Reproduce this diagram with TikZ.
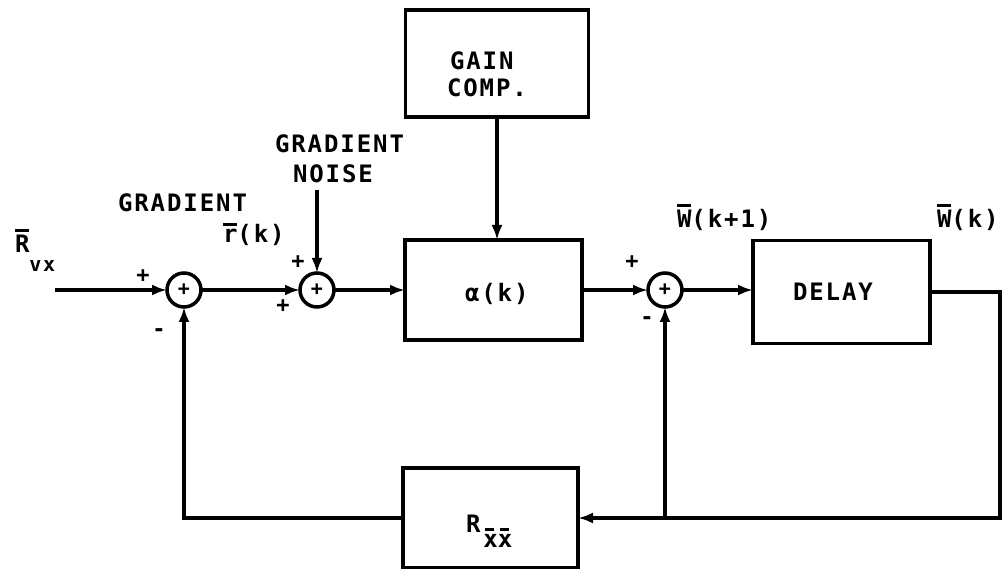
\documentclass[tikz,border=0pt]{standalone}
\usepackage{fontspec}
\setmainfont{DejaVu Sans Mono}
\newfontfamily\labfont[LetterSpace=8]{DejaVu Sans Mono}
\usetikzlibrary{arrows.meta}
\newcommand\obar[1]{\vbox{\hrule height 3pt\kern 3.5pt\hbox{#1}}}
\newcommand\sbar[1]{\vbox{\offinterlineskip\hbox{\kern2pt\vrule width 9pt height 3pt depth 0pt}\kern 3pt\hbox{#1}}}
\tikzset{
  every node/.style={font=\labfont\bfseries\fontsize{24}{27}\selectfont, inner sep=0pt, outer sep=0pt},
  box/.style={draw, line width=3.5pt},
  sumnode/.style={draw, circle, line width=3.5pt, minimum size=34pt, font=\labfont\bfseries\fontsize{20}{22}\selectfont},
  wire/.style={line width=3.5pt},
  arr/.style={wire, -{Latex[length=15pt,width=11pt]}},
  sign/.style={font=\labfont\bfseries\fontsize{22}{24}\selectfont},
}
\begin{document}
\begin{tikzpicture}[x=1pt,y=-1pt]
\useasboundingbox (0,0) rectangle (1004,569);
% blocks
\node[box, minimum width=183pt, minimum height=107pt] (gain) at (497,63.5) {};
\node[box, minimum width=177pt, minimum height=100pt] (alpha) at (493.5,290) {};
\node[box, minimum width=177pt, minimum height=103pt] (delay) at (841.5,292) {};
\node[box, minimum width=175pt, minimum height=100pt] (rxx) at (490.5,518) {};
% summing junctions
\node[sumnode] (s1) at (184,290) {+};
\node[sumnode] (s2) at (317,290) {+};
\node[sumnode] (s3) at (665,290) {+};
% block texts
\node[anchor=base west] (tgain) at (450,70) {GAIN};
\node[anchor=base west] (tcomp) at (447,97) {COMP.};
\node[anchor=base west] (talpha) at (465,302) {α(k)};
\node[anchor=base west] (tdelay) at (793,301) {DELAY};
\node[anchor=base west] (trxx) at (466,532) {R\kern3pt\raisebox{-15pt}{\sbar{x}\sbar{x}}};
% labels
\node[anchor=base west] (trvx) at (15,253) {\obar{R}\raisebox{-19pt}{\fontsize{20}{22}\selectfont vx}};
\node[anchor=base west] (tg1) at (118,212) {GRADIENT};
\node[anchor=base west] (tr) at (223,243) {\obar{r}(k)};
\node[anchor=base west] (tg2) at (275,153) {GRADIENT};
\node[anchor=base west] (tn) at (293,183) {NOISE};
\node[anchor=base west] (tw1) at (677,228) {\obar{W}(k+1)};
\node[anchor=base west] (tw2) at (937,228) {\obar{W}(k)};
% signs
\node[sign] (p1) at (143,276) {+};
\node[sign] (m1) at (159,333) {-};
\node[sign] (p2) at (298,262) {+};
\node[sign] (p3) at (283,306) {+};
\node[sign] (p4) at (632,262) {+};
\node[sign] (m3) at (647,321) {-};
% coordinates
\coordinate (in) at (55,290);
\coordinate (nz) at (317,190);
\coordinate (tr1) at (1000,292);
\coordinate (br) at (1000,518);
\coordinate (jn) at (665,518);
% connectors
\draw[arr] (in) -- (s1);
\draw[arr] (s1) -- (s2);
\draw[arr] (nz) -- (s2);
\draw[arr] (s2) -- (s2 -| alpha.west);
\draw[arr] (gain.south) -- (gain.south |- alpha.north);
\draw[arr] (alpha.east |- s3) -- (s3);
\draw[arr] (s3) -- (s3 -| delay.west);
\draw[wire] (delay.east |- tr1) -- (tr1) -- (br) -- (jn);
\draw[arr] (jn) -- (rxx.east);
\draw[arr] (jn) -- (s3);
\draw[arr] (rxx.west) -- (rxx.west -| s1) -- (s1);
\end{tikzpicture}
\end{document}
